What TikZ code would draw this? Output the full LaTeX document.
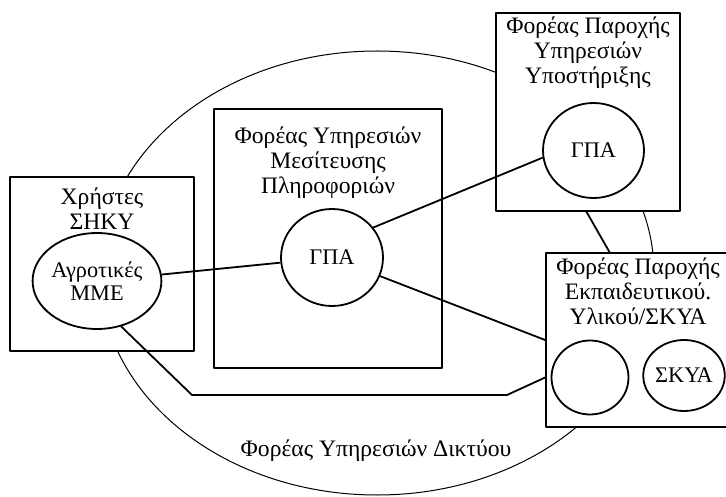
\documentclass[tikz,border=0pt]{standalone}
\usepackage{fontspec}
\setmainfont{Liberation Serif}
\usetikzlibrary{shapes.geometric,calc}

\begin{document}
\begin{tikzpicture}[x=1pt,y=-1pt, line join=round, font=\fontsize{23.6}{25}\selectfont,
	box/.style={draw, rectangle, fill=white, line width=1.8pt, inner sep=0pt},
	unit/.style={draw, ellipse, line width=1.8pt, inner sep=0pt, align=center, font=\fontsize{22.3}{23.5}\selectfont},
	title/.style={align=center, inner sep=0pt},
	link/.style={line width=1.8pt}]
	%Khung hình.
	\useasboundingbox (0,0) rectangle (726,497);
	%Mạng.
	\node[draw, ellipse, line width=1pt, minimum width=554pt, minimum height=444pt] (net) at (377,273) {};
	\node[title] (nettxt) at (376,451) {Φορέας Υπηρεσιών Δικτύου};
	%Các khối.
	\node[box, minimum width=184pt, minimum height=174pt] (users) at (102,264) {};
	\node[box, minimum width=228pt, minimum height=259pt] (broker) at (328,238.5) {};
	\node[box, minimum width=184pt, minimum height=198pt] (support) at (588,112) {};
	\node[box, minimum width=184pt, minimum height=174pt] (edu) at (638,340) {};
	%Tiêu đề.
	\node[title] (userstxt) at (102,208.5) {Χρήστες\\ΣΗΚΥ};
	\node[title] (brokertxt) at (328,163) {Φορέας Υπηρεσιών\\Μεσίτευσης\\Πληροφοριών};
	\node[title] (supporttxt) at (588,53) {Φορέας Παροχής\\Υπηρεσιών\\Υποστήριξης};
	\node[title] (edutxt) at (638,291) {Φορέας Παροχής\\Εκπαιδευτικού.\\Υλικού/ΣΚΥΑ};
	%Các vòng.
	\node[unit, minimum width=102pt, minimum height=96pt] (agro) at (97,281) {Αγροτικές\\ΜΜΕ};
	\node[unit, minimum width=102pt, minimum height=97pt] (gpa) at (332,257.5) {ΓΠΑ};
	\node[unit, minimum width=101pt, minimum height=95pt] (gpb) at (593.5,150.5) {ΓΠΑ};
	\node[unit, minimum width=77pt, minimum height=74pt] (empty) at (590,377.5) {};
	\node[unit, minimum width=78pt, minimum height=71pt] (skya) at (684,375.5) {ΣΚΥΑ};
	%Đường nối.
	\coordinate (b1) at (192,395);
	\coordinate (b2) at (507,395);
	\coordinate (s1) at (586,211);
	\coordinate (e1) at (610,253);
	\draw[link] (agro)--(gpa);
	\draw[link] (gpa.36)--(gpb.188);
	\draw[link] (gpa)--(edu.west);
	\draw[link] (agro.-62)--(b1)--(b2)--(edu.west |- empty);
	\draw[link] (s1)--(e1);
\end{tikzpicture}
\end{document}
